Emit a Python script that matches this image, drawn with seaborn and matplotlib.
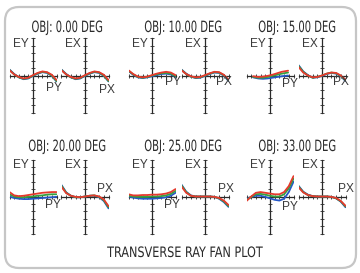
import numpy as np
import pandas as pd
import matplotlib
matplotlib.use("Agg")
import matplotlib.pyplot as plt
from matplotlib import font_manager as fm
from matplotlib.patches import FancyBboxPatch
from matplotlib.patheffects import AbstractPathEffect
from matplotlib.transforms import Affine2D
import seaborn as sns

# ---------------- data ----------------
field_angles = [0.00, 10.00, 15.00, 20.00, 25.00, 33.00]
wavelengths = ["blue", "green", "red"]
pupil = [-1.0, -0.8, -0.6, -0.4, -0.2, 0.0, 0.2, 0.4, 0.6, 0.8, 1.0]
pupil_15y = [-0.72, -0.5, -0.3, -0.1, 0.1, 0.3, 0.5, 0.77]
axis_ticks = [-1.0, -0.8, -0.6, -0.4, -0.2, 0.0, 0.2, 0.4, 0.6, 0.8, 1.0]

ey00_b = [0.16, 0.04, -0.05, -0.10, -0.08, -0.01, 0.05, 0.09, 0.07, -0.01, -0.16]
ey00_g = [0.15, 0.03, -0.05, -0.09, -0.07, 0.00, 0.06, 0.10, 0.08, 0.00, -0.15]
ey00_r = [0.14, 0.03, -0.04, -0.08, -0.06, 0.01, 0.07, 0.11, 0.09, 0.02, -0.12]
ex00_b = [0.16, 0.04, -0.05, -0.10, -0.08, -0.01, 0.05, 0.09, 0.07, -0.01, -0.16]
ex00_g = [0.15, 0.03, -0.05, -0.09, -0.07, 0.00, 0.06, 0.10, 0.08, 0.00, -0.15]
ex00_r = [0.14, 0.03, -0.04, -0.08, -0.06, 0.01, 0.07, 0.11, 0.09, 0.02, -0.12]

ey10_b = [0.12, 0.02, -0.05, -0.07, -0.05, -0.02, 0.01, 0.04, 0.05, 0.03, -0.04]
ey10_g = [0.13, 0.03, -0.04, -0.06, -0.04, 0.00, 0.03, 0.06, 0.07, 0.05, -0.02]
ey10_r = [0.14, 0.04, -0.03, -0.05, -0.03, 0.01, 0.05, 0.08, 0.10, 0.08, 0.01]
ex10_b = [0.16, 0.05, -0.03, -0.07, -0.06, -0.01, 0.04, 0.08, 0.07, 0.00, -0.15]
ex10_g = [0.15, 0.04, -0.03, -0.06, -0.05, 0.00, 0.05, 0.09, 0.08, 0.01, -0.13]
ex10_r = [0.14, 0.04, -0.02, -0.05, -0.04, 0.01, 0.06, 0.10, 0.09, 0.02, -0.11]

ey15_b = [-0.05, -0.08, -0.09, -0.08, -0.06, -0.04, -0.02, 0.00]
ey15_g = [-0.04, -0.06, -0.06, -0.04, -0.01, 0.02, 0.05, 0.08]
ey15_r = [-0.02, -0.04, -0.03, -0.01, 0.02, 0.06, 0.10, 0.13]
ex15_b = [0.28, 0.11, 0.01, -0.06, -0.05, -0.01, 0.04, 0.07, 0.05, -0.02, -0.15]
ex15_g = [0.26, 0.10, 0.00, -0.06, -0.04, 0.00, 0.05, 0.08, 0.06, -0.01, -0.13]
ex15_r = [0.23, 0.08, 0.00, -0.05, -0.04, 0.00, 0.05, 0.08, 0.07, 0.00, -0.11]

ey20_b = [0.00, -0.04, -0.06, -0.07, -0.07, -0.06, -0.05, -0.04, -0.03, -0.02, -0.01]
ey20_g = [0.06, 0.00, -0.02, -0.02, -0.01, 0.00, 0.02, 0.03, 0.05, 0.06, 0.06]
ey20_r = [0.12, 0.03, 0.01, 0.02, 0.04, 0.06, 0.08, 0.10, 0.11, 0.12, 0.12]
ex20_b = [0.31, 0.11, 0.02, -0.02, -0.02, 0.00, 0.02, 0.02, -0.02, -0.12, -0.32]
ex20_g = [0.29, 0.10, 0.02, -0.02, -0.02, 0.00, 0.02, 0.03, -0.01, -0.10, -0.29]
ex20_r = [0.26, 0.09, 0.02, -0.01, -0.02, 0.00, 0.02, 0.03, 0.00, -0.08, -0.26]

ey25_b = [0.00, -0.03, -0.05, -0.06, -0.06, -0.06, -0.05, -0.04, -0.02, 0.02, 0.10]
ey25_g = [0.02, 0.00, -0.01, -0.01, -0.01, 0.00, 0.00, 0.01, 0.03, 0.07, 0.15]
ey25_r = [0.06, 0.03, 0.03, 0.04, 0.04, 0.05, 0.05, 0.06, 0.08, 0.12, 0.20]
ex25_b = [0.32, 0.13, 0.03, 0.00, 0.00, 0.00, 0.00, -0.01, -0.06, -0.15, -0.28]
ex25_g = [0.30, 0.12, 0.02, 0.00, 0.00, 0.00, 0.00, -0.01, -0.05, -0.13, -0.26]
ex25_r = [0.27, 0.10, 0.02, 0.00, 0.00, 0.00, 0.00, -0.01, -0.04, -0.11, -0.23]

ey33_b = [-0.07, -0.01, 0.02, 0.02, -0.01, -0.05, -0.09, -0.11, -0.06, 0.12, 0.40]
ey33_g = [-0.10, -0.01, 0.06, 0.07, 0.05, 0.02, 0.00, 0.00, 0.06, 0.22, 0.48]
ey33_r = [-0.12, 0.00, 0.10, 0.12, 0.10, 0.08, 0.06, 0.06, 0.12, 0.28, 0.55]
ex33_b = [0.29, 0.13, 0.05, 0.01, 0.00, 0.00, 0.00, -0.01, -0.05, -0.14, -0.29]
ex33_g = [0.27, 0.12, 0.04, 0.01, 0.00, 0.00, 0.00, -0.01, -0.05, -0.13, -0.27]
ex33_r = [0.25, 0.11, 0.04, 0.01, 0.00, 0.00, 0.00, -0.01, -0.04, -0.12, -0.25]

chart_title = "TRANSVERSE RAY FAN PLOT"

# ---------------- table ----------------
fans = {
    (0, "Y"): (pupil, [ey00_b, ey00_g, ey00_r]), (0, "X"): (pupil, [ex00_b, ex00_g, ex00_r]),
    (1, "Y"): (pupil, [ey10_b, ey10_g, ey10_r]), (1, "X"): (pupil, [ex10_b, ex10_g, ex10_r]),
    (2, "Y"): (pupil_15y, [ey15_b, ey15_g, ey15_r]), (2, "X"): (pupil, [ex15_b, ex15_g, ex15_r]),
    (3, "Y"): (pupil, [ey20_b, ey20_g, ey20_r]), (3, "X"): (pupil, [ex20_b, ex20_g, ex20_r]),
    (4, "Y"): (pupil, [ey25_b, ey25_g, ey25_r]), (4, "X"): (pupil, [ex25_b, ex25_g, ex25_r]),
    (5, "Y"): (pupil, [ey33_b, ey33_g, ey33_r]), (5, "X"): (pupil, [ex33_b, ex33_g, ex33_r]),
}
rows = []
for (fi, fan), (pp, series) in fans.items():
    for w, vals in zip(wavelengths, series):
        for p, v in zip(pp, vals):
            rows.append({"field": fi, "fan": fan, "wave": w, "pupil": p, "err": v})
df = pd.DataFrame(rows)

# ---------------- style ----------------
sns.set_style("white")
label_font = ["Liberation Sans", "DejaVu Sans"]
plt.rcParams["font.family"] = label_font

# look for a narrow / condensed face for the titles
cands = []
for f in fm.fontManager.ttflist:
    nm = f.name.lower()
    st = str(f.stretch).lower()
    narrow = ("narrow" in nm or "condensed" in nm or "condensed" in st
              or "narrow" in f.fname.lower() or "condensed" in f.fname.lower())
    if narrow and f.style == "normal" and str(f.weight) in ("400", "normal", "regular", "book"):
        cands.append(f)
pref = ["liberation sans narrow", "dejavu sans", "roboto", "open sans", "noto sans"]
cands.sort(key=lambda f: next((i for i, p in enumerate(pref) if f.name.lower().startswith(p)), 99))
if cands:
    title_prop = fm.FontProperties(fname=cands[0].fname)
    title_size = 8.0
    foot_size = 9.0
else:
    title_prop = fm.FontProperties(family=label_font)
    title_size = 7.0
    foot_size = 7.6


class StretchY(AbstractPathEffect):
    """Draw text glyphs taller (narrow plotter-style lettering)."""
    def __init__(self, s):
        super().__init__()
        self.s = s

    def draw_path(self, renderer, gc, tpath, affine, rgbFace=None):
        m = affine.get_matrix()
        tx, ty = m[0, 2], m[1, 2]
        aff = affine + Affine2D().translate(-tx, -ty).scale(1, self.s).translate(tx, ty)
        renderer.draw_path(gc, tpath, aff, rgbFace)


palette = {"blue": "#2457c8", "green": "#35a040", "red": "#e5392d"}
ink = "#2a2a2a"
label_ink = "#3a3a3a"

W, H = 360, 273
fig = plt.figure(figsize=(W / 100, H / 100), dpi=100)
bg = fig.add_axes([0, 0, 1, 1])
bg.set_xlim(0, W)
bg.set_ylim(H, 0)
bg.axis("off")
bg.add_patch(FancyBboxPatch((5, 7), 351, 261, boxstyle="round,pad=0,rounding_size=14",
                            fc="white", ec="#c6c6c6", lw=1.6))

ey_cx = [33, 152, 270]
ex_cx = [85, 205, 322]
row_cy = [75.5, 196.5]
half_w, half_h = 23.5, 37.0
title_cx = [67, 183, 297]
title_base = [32, 151]

# pupil label positions (data units) per plot: (x, y)
py_pos = [(0.9, -0.34), (0.9, -0.18), (0.85, -0.24), (0.85, -0.23), (0.85, -0.23), (0.85, -0.28)]
px_pos = [(0.94, -0.38), (0.8, -0.18), (0.8, -0.18), (0.85, 0.2), (0.9, 0.2), (1.0, 0.2)]

def make_ax(cx, cy):
    ax = fig.add_axes([(cx - half_w) / W, 1 - (cy + half_h) / H, 2 * half_w / W, 2 * half_h / H])
    ax.set_xlim(-1, 1)
    ax.set_ylim(-1, 1)
    ax.patch.set_alpha(0)
    for s in ["top", "right"]:
        ax.spines[s].set_visible(False)
    for s in ["left", "bottom"]:
        ax.spines[s].set_position(("data", 0))
        ax.spines[s].set_color(ink)
        ax.spines[s].set_linewidth(0.9)
    ax.set_xticks(axis_ticks)
    ax.set_yticks(axis_ticks)
    ax.tick_params(direction="inout", length=3, width=0.6, colors=ink,
                   bottom=True, left=True, top=False, right=False,
                   labelbottom=False, labelleft=False)
    return ax

for fi, ang in enumerate(field_angles):
    r, c = divmod(fi, 3)
    cy = row_cy[r]
    for fan, cx in (("Y", ey_cx[c]), ("X", ex_cx[c])):
        ax = make_ax(cx, cy)
        sub = df[(df.field == fi) & (df.fan == fan)]
        sns.lineplot(data=sub, x="pupil", y="err", hue="wave", hue_order=wavelengths,
                     palette=palette, estimator=None, sort=False, legend=False,
                     linewidth=1.3, ax=ax, zorder=3)
        ax.set_xlabel("")
        ax.set_ylabel("")
        ax.text(-0.18, 1.01, "E" + fan, ha="right", va="top", fontsize=8.6, color=label_ink,
                family=label_font)
        lx, ly = (py_pos if fan == "Y" else px_pos)[fi]
        ax.text(lx, ly, "P" + fan, ha="center", va="center", fontsize=8.6, color=label_ink,
                family=label_font)
    bg.text(title_cx[c], title_base[r], f"OBJ: {ang:.2f} DEG", ha="center", va="baseline",
            fontproperties=title_prop, fontsize=title_size, color=ink,
            path_effects=[StretchY(1.4)])

bg.text(185, 257, chart_title, ha="center", va="baseline", fontproperties=title_prop,
        fontsize=foot_size, color=ink, path_effects=[StretchY(1.15)])

fig.savefig("out.png", dpi=100)
